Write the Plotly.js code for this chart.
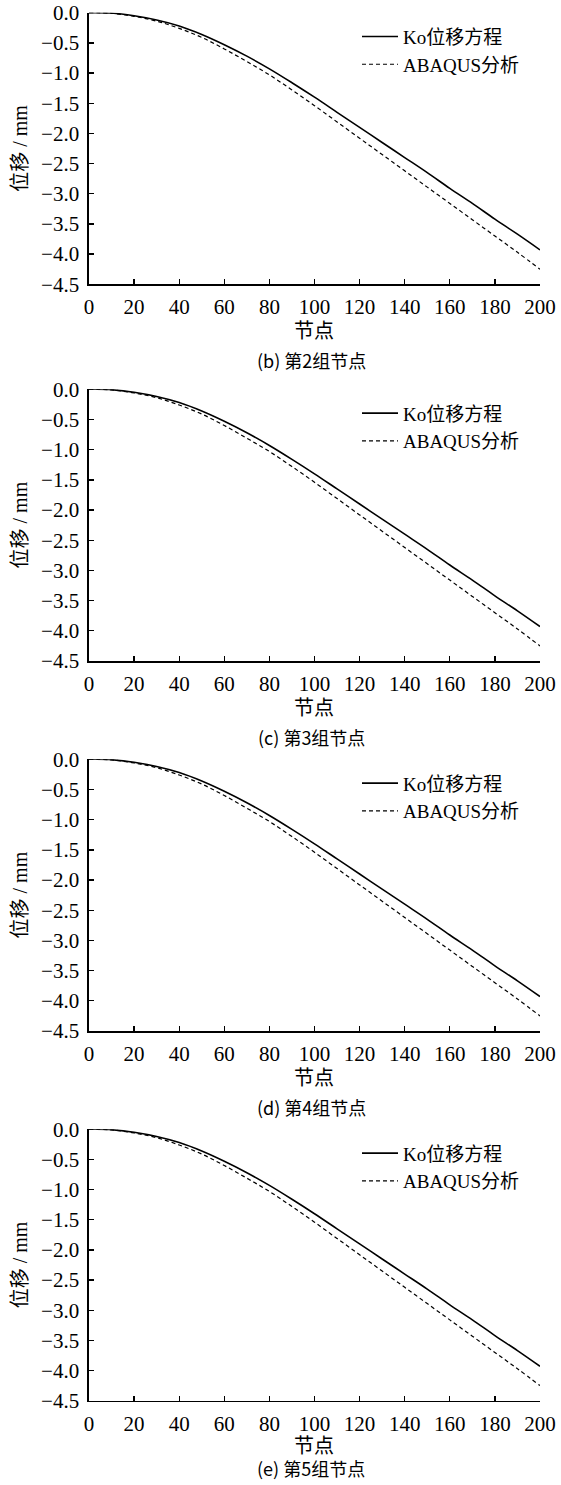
<!DOCTYPE html>
<html>
<head>
<meta charset="utf-8">
<script src="https://cdn.plot.ly/plotly-3.0.1.min.js"></script>
<style>html,body{margin:0;padding:0;background:#fff;}#chart{width:561px;height:1485px;}</style>
</head>
<body>
<div id="chart"></div>
<script>
// node numbers
var nodes = [0, 10, 20, 30, 40, 50, 60, 70, 80, 90, 100, 110, 120, 130, 140, 150, 160, 170, 180, 190, 200];
// Ko displacement equation (mm)
var koDisp = [0.0, -0.005, -0.05, -0.12, -0.22, -0.36, -0.53, -0.72, -0.93, -1.16, -1.40, -1.65, -1.90, -2.15, -2.40, -2.65, -2.91, -3.16, -3.42, -3.67, -3.93];
// ABAQUS analysis (mm)
var abaqusDisp = [0.0, -0.01, -0.06, -0.14, -0.26, -0.41, -0.60, -0.81, -1.03, -1.28, -1.54, -1.81, -2.08, -2.35, -2.62, -2.89, -3.16, -3.43, -3.70, -3.97, -4.25];
// panel captions
var captions = ["(b) 第2组节点", "(c) 第3组节点", "(d) 第4组节点", "(e) 第5组节点"];
var seriesNames = ["Ko位移方程", "ABAQUS分析"];
var xTitle = "节点";
var yTitle = "位移 / mm";
var xTicks = [0, 20, 40, 60, 80, 100, 120, 140, 160, 180, 200];
var yTicks = [0, -0.5, -1.0, -1.5, -2.0, -2.5, -3.0, -3.5, -4.0, -4.5];

var W = 561, H = 1485;
var serifOnly = "Liberation Serif";
var serif = "Liberation Serif, Noto Sans CJK SC";
var cjk = "Noto Sans CJK SC";
// panel pixel geometry: plot top, plot bottom, x-title centre, caption centre
var panels = [
  [12.7, 284.3, 331, 360],
  [389.3, 661.0, 708, 737],
  [759.3, 1031.0, 1078, 1107],
  [1129.3, 1400.7, 1446, 1468]
];
var xLeft = 89, xRight = 540;

var data = [];
var layout = {
  width: W, height: H,
  margin: {l: 0, r: 0, t: 0, b: 0},
  paper_bgcolor: "#fff", plot_bgcolor: "#fff",
  font: {family: serif, color: "#000", size: 20},
  annotations: []
};

panels.forEach(function (p, i) {
  var sfx = i === 0 ? "" : String(i + 1);
  var xa = "x" + sfx, ya = "y" + sfx, lg = "legend" + sfx;
  data.push({x: nodes, y: koDisp, xaxis: xa, yaxis: ya, legend: lg, name: seriesNames[0], mode: "lines",
    line: {color: "#000", width: 1.6, shape: "spline"}});
  data.push({x: nodes, y: abaqusDisp, xaxis: xa, yaxis: ya, legend: lg, name: seriesNames[1], mode: "lines",
    line: {color: "#000", width: 1.2, dash: "4px,3px", shape: "spline"}});
  var yd = [1 - p[1] / H, 1 - p[0] / H];
  layout["xaxis" + sfx] = {
    domain: [xLeft / W, xRight / W], anchor: ya, range: [0, 200],
    tickvals: xTicks, ticks: "inside", ticklen: 5, tickwidth: 1.3, tickcolor: "#000",
    showline: true, linecolor: "#000", linewidth: 1.6, showgrid: false, zeroline: false,
    tickfont: {family: serifOnly, size: 21, color: "#000"}, ticklabelstandoff: 3,
    automargin: false
  };
  layout["yaxis" + sfx] = {
    domain: yd, anchor: xa, range: [-4.5, 0.0],
    tickvals: yTicks, tickformat: ".1f", ticks: "inside", ticklen: 5, tickwidth: 1.3, tickcolor: "#000",
    showline: true, linecolor: "#000", linewidth: 1.6, showgrid: false, zeroline: false,
    tickfont: {family: serifOnly, size: 21, color: "#000"}, ticklabelstandoff: 4,
    title: {text: yTitle, font: {family: serif, size: 20}, standoff: 8},
    automargin: false
  };
  layout[lg] = {
    x: 357 / W, xanchor: "left", y: 1 - (p[0] + 5) / H, yanchor: "top",
    bgcolor: "rgba(0,0,0,0)", borderwidth: 0, tracegroupgap: 0,
    font: {family: serif, size: 19, color: "#000"}, itemwidth: 36
  };
  layout.annotations.push({
    xref: "paper", yref: "paper", x: (xLeft + xRight) / 2 / W, y: 1 - p[2] / H,
    xanchor: "center", yanchor: "middle", showarrow: false, text: xTitle,
    font: {family: serif, size: 20, color: "#000"}
  });
  layout.annotations.push({
    xref: "paper", yref: "paper", x: 311 / W, y: 1 - p[3] / H,
    xanchor: "center", yanchor: "middle", showarrow: false, text: captions[i],
    font: {family: cjk, size: 18, color: "#000"}
  });
});

Plotly.newPlot("chart", data, layout, {displayModeBar: false, staticPlot: true});
</script>
</body>
</html>
